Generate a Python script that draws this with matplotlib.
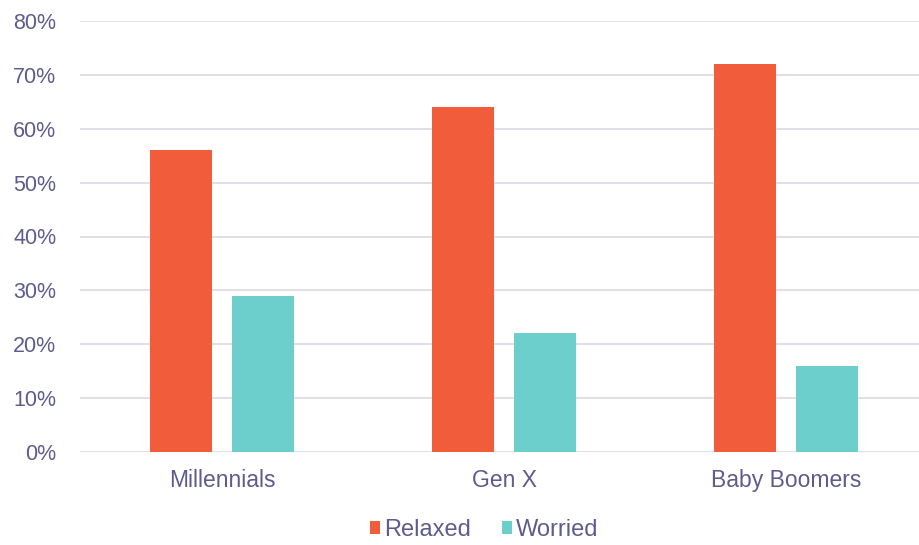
import matplotlib
matplotlib.use("Agg")
import matplotlib.pyplot as plt
import numpy as np
from matplotlib.ticker import PercentFormatter

categories = ["Millennials", "Gen X", "Baby Boomers"]
relaxed = [0.56, 0.64, 0.72]
worried = [0.29, 0.22, 0.16]
series_names = ["Relaxed", "Worried"]
yticks = [0, 0.1, 0.2, 0.3, 0.4, 0.5, 0.6, 0.7, 0.8]

plt.rcParams['font.family'] = ['Liberation Sans', 'DejaVu Sans']
text_color = "#5e5c8e"
c_relaxed = "#f15d3a"
c_worried = "#6dcfcb"
grid_color = "#d9d9e4"

fig = plt.figure(figsize=(9.2, 5.45), dpi=100)
ax = fig.add_axes([80/920, 1-452/545, 1-80/920, (452-21)/545])

x = np.arange(len(categories))
w = 0.22
off = 0.145
ax.bar(x - off, relaxed, width=w, color=c_relaxed, label=series_names[0], zorder=3)
ax.bar(x + off, worried, width=w, color=c_worried, label=series_names[1], zorder=3)

ax.set_xlim(-0.5035, 2.475)
ax.set_ylim(0, 0.8)
ax.set_yticks(yticks)
ax.yaxis.set_major_formatter(PercentFormatter(1.0, decimals=0))
ax.set_xticks(x)
ax.set_xticklabels(categories)
ax.grid(axis='y', color=grid_color, linewidth=1.2, zorder=0)
for s in ax.spines.values():
    s.set_visible(False)
ax.tick_params(axis='both', length=0, colors=text_color)
ax.tick_params(axis='y', labelsize=15.5, pad=17)
ax.tick_params(axis='x', labelsize=16.5, pad=12)

leg = fig.legend(loc='center', bbox_to_anchor=(484/920, 1-530/545), ncol=2, frameon=False,
                 fontsize=17, handlelength=0.45, handleheight=0.45, handletextpad=0.15,
                 columnspacing=1.3, labelcolor=text_color)

fig.savefig("out.png", dpi=100)
